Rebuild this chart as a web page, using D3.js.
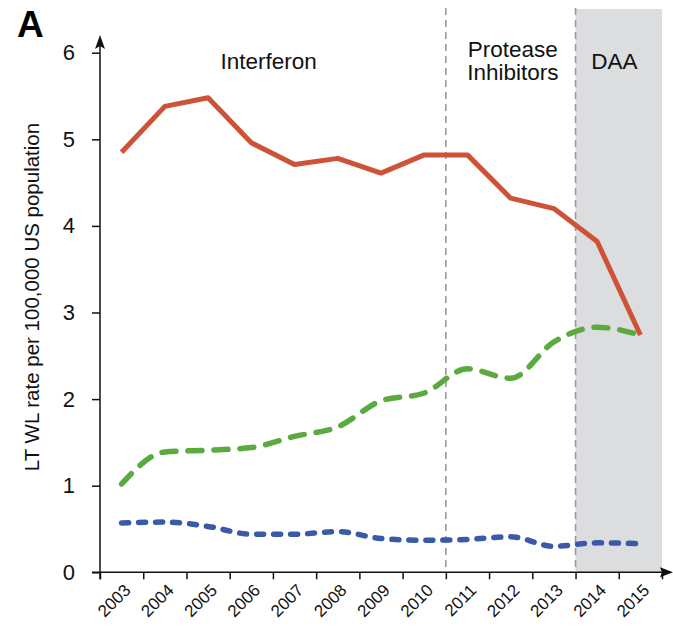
<!DOCTYPE html>
<html>
<head>
<meta charset="utf-8">
<script src="https://cdn.jsdelivr.net/npm/d3@7"></script>
<style>
  html, body { margin: 0; padding: 0; background: #fff; }
  svg { display: block; font-family: "Liberation Sans", Arial, Helvetica, sans-serif; }
</style>
</head>
<body>
<svg id="chart" width="673" height="628"></svg>
<script>
// Years shown on the x axis
const years = [2003, 2004, 2005, 2006, 2007, 2008, 2009, 2010, 2011, 2012, 2013, 2014, 2015];

// Liver transplant waitlist rates per 100,000 US population
const seriesRed   = [4.85, 5.38, 5.48, 4.96, 4.71, 4.78, 4.61, 4.82, 4.82, 4.32, 4.20, 3.82, 2.74];
const seriesGreen = [1.02, 1.39, 1.41, 1.44, 1.57, 1.68, 1.98, 2.07, 2.35, 2.24, 2.66, 2.83, 2.74];
const seriesBlue  = [0.57, 0.58, 0.53, 0.44, 0.44, 0.47, 0.39, 0.37, 0.38, 0.41, 0.30, 0.34, 0.33];

const yTicks = [0, 1, 2, 3, 4, 5, 6];

// Treatment eras: label lines and the year position of each label's centre
const eraLabels = [
  { lines: ["Interferon"], center: 2006.4 },
  { lines: ["Protease", "Inhibitors"], center: 2012.05 },
  { lines: ["DAA"], center: 2014.4 }
];
const eraBoundaries = [2010.5, 2013.5];

const svg = d3.select("#chart");

const x = d3.scaleLinear().domain([2002.5, 2015.5]).range([100, 662]);
const y = d3.scaleLinear().domain([0, 6]).range([572.3, 52.7]);

// Shaded DAA era
svg.append("rect")
  .attr("x", x(2013.5))
  .attr("y", 9)
  .attr("width", x(2015.5) - x(2013.5))
  .attr("height", y(0) - 9)
  .attr("fill", "#dcdddf");

// Era boundaries
svg.selectAll("line.era")
  .data(eraBoundaries)
  .join("line")
  .attr("class", "era")
  .attr("x1", d => x(d)).attr("x2", d => x(d))
  .attr("y1", 8).attr("y2", y(0))
  .attr("stroke", "#9a9a9a")
  .attr("stroke-width", 1.6)
  .attr("stroke-dasharray", "7,5");

// Era labels
eraLabels.forEach(e => {
  const t = svg.append("text")
    .attr("text-anchor", "middle")
    .attr("font-size", 22.5)
    .attr("fill", "#111");
  const baseY = e.lines.length === 2 ? 57 : 69;
  e.lines.forEach((ln, j) => {
    t.append("tspan")
      .attr("x", x(e.center))
      .attr("y", baseY + j * 23)
      .text(ln);
  });
});

// Axes
const xAxis = d3.axisBottom(x)
  .tickValues(d3.range(2002.5, 2016, 1))
  .tickSize(7)
  .tickFormat("");
const gx = svg.append("g")
  .attr("transform", `translate(0,${y(0)})`)
  .call(xAxis);
gx.select(".domain").remove();
gx.selectAll(".tick line").attr("stroke", "#111").attr("stroke-width", 1.5);

svg.append("line")
  .attr("x1", x(2002.5) - 8).attr("x2", 668)
  .attr("y1", y(0)).attr("y2", y(0))
  .attr("stroke", "#111").attr("stroke-width", 1.5);
svg.append("path")
  .attr("d", `M673,${y(0)} L660,${y(0) - 5} L662,${y(0)} L660,${y(0) + 5} Z`)
  .attr("fill", "#111");

const yAxis = d3.axisLeft(y)
  .tickValues(yTicks)
  .tickSize(8)
  .tickPadding(17)
  .tickFormat(d3.format("d"));
const gy = svg.append("g")
  .attr("transform", `translate(${x(2002.5)},0)`)
  .call(yAxis);
gy.select(".domain").remove();
gy.selectAll(".tick line").attr("stroke", "#111").attr("stroke-width", 1.5);
gy.selectAll(".tick text")
  .attr("font-size", 22)
  .attr("font-family", "Liberation Sans, Arial, sans-serif")
  .attr("fill", "#111");

svg.append("line")
  .attr("x1", x(2002.5)).attr("x2", x(2002.5))
  .attr("y1", y(0) + 7).attr("y2", 44)
  .attr("stroke", "#111").attr("stroke-width", 1.5);
svg.append("path")
  .attr("d", `M${x(2002.5)},35 L${x(2002.5) - 5},49 L${x(2002.5)},46 L${x(2002.5) + 5},49 Z`)
  .attr("fill", "#111");

// Year labels, rotated
svg.selectAll("text.year")
  .data(years)
  .join("text")
  .attr("class", "year")
  .attr("text-anchor", "end")
  .attr("font-size", 17)
  .attr("fill", "#111")
  .attr("transform", d => `translate(${x(d) + 10},${y(0) + 19}) rotate(-45)`)
  .text(d => d);

// Axis title
svg.append("text")
  .attr("transform", `translate(39,297) rotate(-90)`)
  .attr("text-anchor", "middle")
  .attr("font-size", 20.5)
  .attr("fill", "#111")
  .text("LT WL rate per 100,000 US population");

// Panel letter
svg.append("text")
  .attr("x", 17).attr("y", 37)
  .attr("font-size", 37)
  .attr("font-weight", "bold")
  .attr("fill", "#000")
  .text("A");

// Series lines
const pts = vals => vals.map((v, i) => [years[i], v]);

const lineLinear = d3.line().x(d => x(d[0])).y(d => y(d[1]));
const lineSmooth = d3.line().x(d => x(d[0])).y(d => y(d[1])).curve(d3.curveMonotoneX);

svg.append("path")
  .attr("d", lineSmooth(pts(seriesBlue)))
  .attr("fill", "none")
  .attr("stroke", "#3a5aa9")
  .attr("stroke-width", 5.5)
  .attr("stroke-linecap", "round")
  .attr("stroke-dasharray", "7,10");

svg.append("path")
  .attr("d", lineSmooth(pts(seriesGreen)))
  .attr("fill", "none")
  .attr("stroke", "#5aaa3f")
  .attr("stroke-width", 5.5)
  .attr("stroke-linecap", "round")
  .attr("stroke-dasharray", "14,12");

svg.append("path")
  .attr("d", lineLinear(pts(seriesRed)))
  .attr("fill", "none")
  .attr("stroke", "#cd5237")
  .attr("stroke-width", 5)
  .attr("stroke-linejoin", "round");
</script>
</body>
</html>
